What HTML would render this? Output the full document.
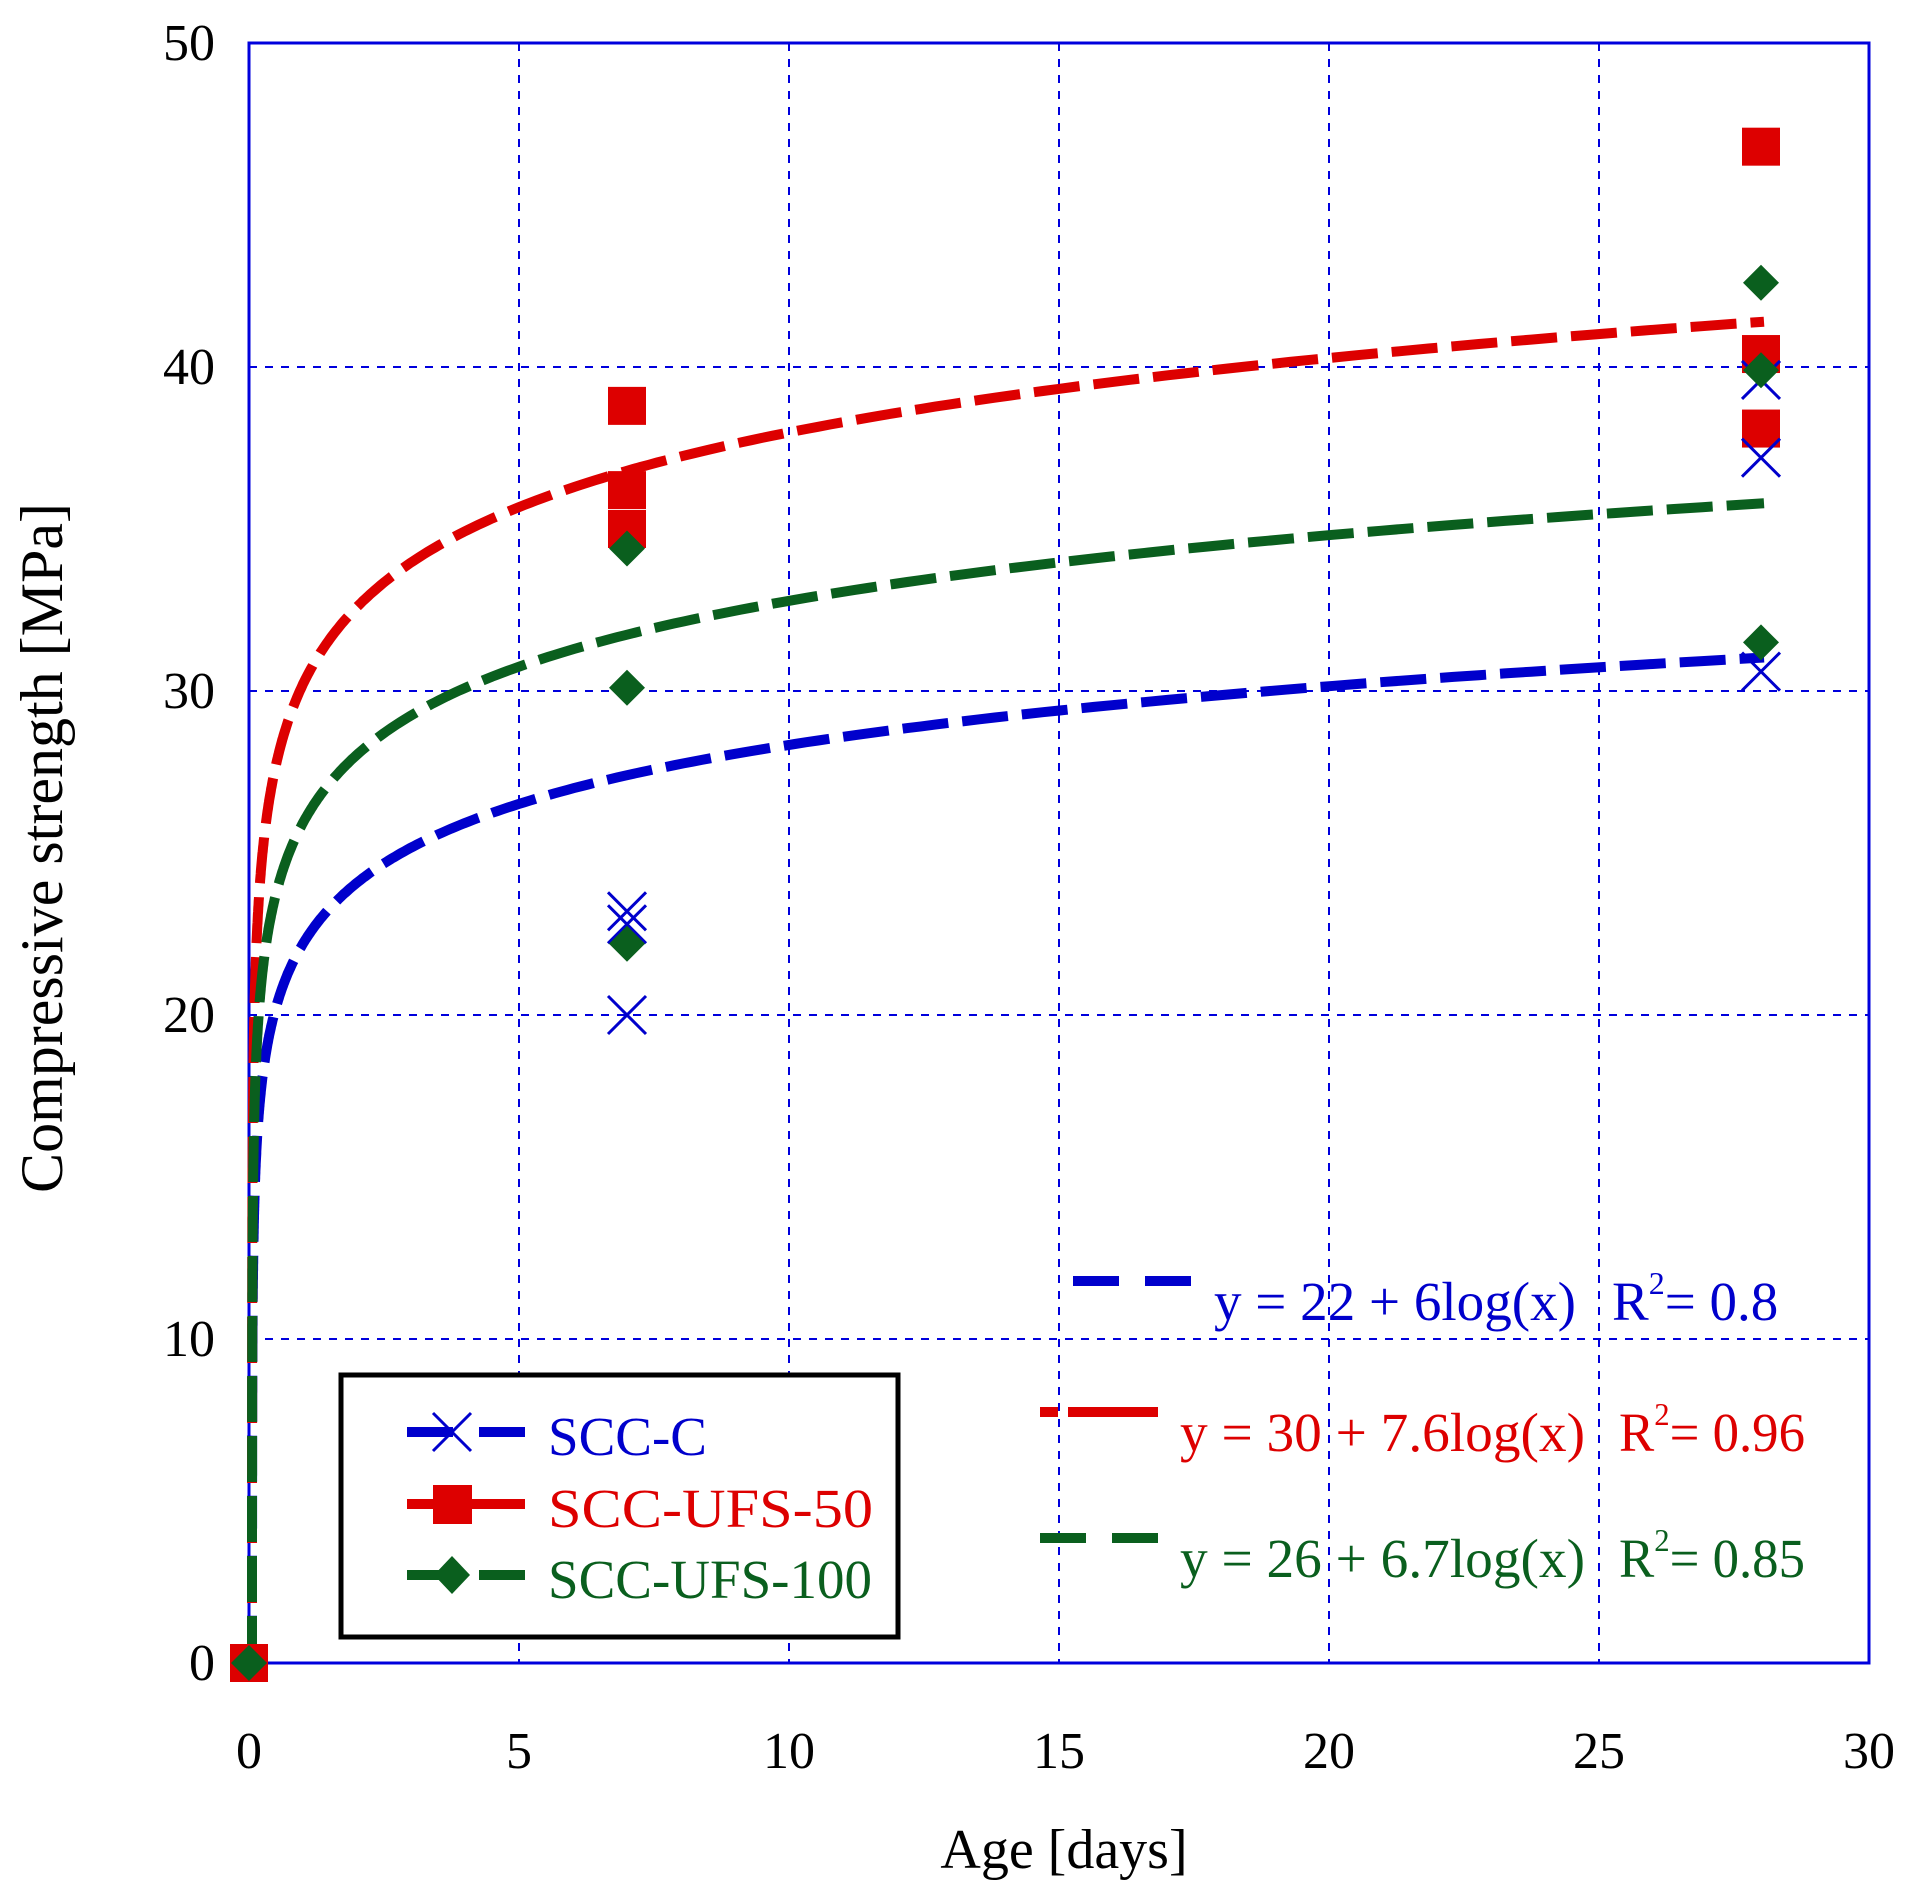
<!DOCTYPE html>
<html><head><meta charset="utf-8"><style>html,body{margin:0;padding:0;background:#fff}svg{display:block}</style></head>
<body>
<svg id="s" width="1917" height="1892" xmlns="http://www.w3.org/2000/svg" font-family="Liberation Serif, serif">
<g id="grid" stroke="#0000dd" stroke-width="2" stroke-dasharray="8,8" fill="none"></g>
<rect x="249" y="43" width="1620" height="1620" fill="none" stroke="#0000dd" stroke-width="3"/>
<g id="ticks" font-size="52" fill="#000"></g>
<text x="1064" y="1868" font-size="56" text-anchor="middle">Age [days]</text>
<text transform="translate(62,848) rotate(-90)" font-size="60" text-anchor="middle">Compressive strength [MPa]</text>
<g id="curves" fill="none" stroke-width="10" stroke-dasharray="46,14"></g>
<g id="marks"></g>
<!-- legend -->
<rect x="341" y="1375" width="557" height="262" fill="#fff" stroke="#000" stroke-width="5"/>
<line x1="407" y1="1432" x2="525" y2="1432" stroke="#0000cc" stroke-width="10" stroke-dasharray="46,26"/>
<path d="M433 1413 L471 1451 M471 1413 L433 1451" stroke="#0000cc" stroke-width="3"/>
<line x1="407" y1="1504" x2="525" y2="1504" stroke="#dd0000" stroke-width="10"/>
<rect x="433" y="1485" width="39" height="39" fill="#dd0000"/>
<line x1="407" y1="1575" x2="525" y2="1575" stroke="#0a5f1e" stroke-width="10" stroke-dasharray="46,26"/>
<path d="M452 1556 L470 1575 L452 1594 L434 1575Z" fill="#0a5f1e"/>
<g font-size="55">
<text x="548" y="1455" fill="#0000cc">SCC-C</text>
<text x="548" y="1527" fill="#dd0000" textLength="325" lengthAdjust="spacingAndGlyphs">SCC-UFS-50</text>
<text x="548" y="1598" fill="#0a5f1e" textLength="324" lengthAdjust="spacingAndGlyphs">SCC-UFS-100</text>
</g>
<!-- equations -->
<line x1="1073" y1="1281" x2="1192" y2="1281" stroke="#0000cc" stroke-width="10" stroke-dasharray="46,26"/>
<line x1="1040" y1="1412" x2="1158" y2="1412" stroke="#dd0000" stroke-width="10" stroke-dasharray="18,10,82,0"/>
<line x1="1040" y1="1538" x2="1158" y2="1538" stroke="#0a5f1e" stroke-width="10" stroke-dasharray="46,26"/>
<g font-size="55">
<text x="1214" y="1320" fill="#0000cc" textLength="362" lengthAdjust="spacingAndGlyphs">y = 22 + 6log(x)</text>
<text x="1612" y="1320" fill="#0000cc">R<tspan dy="-26" font-size="32">2</tspan><tspan dy="26">= 0.8</tspan></text>
<text x="1180" y="1451" fill="#dd0000" textLength="405" lengthAdjust="spacingAndGlyphs">y = 30 + 7.6log(x)</text>
<text x="1619" y="1451" fill="#dd0000" textLength="186" lengthAdjust="spacingAndGlyphs">R<tspan dy="-26" font-size="32">2</tspan><tspan dy="26">= 0.96</tspan></text>
<text x="1180" y="1577" fill="#0a5f1e" textLength="405" lengthAdjust="spacingAndGlyphs">y = 26 + 6.7log(x)</text>
<text x="1619" y="1577" fill="#0a5f1e" textLength="186" lengthAdjust="spacingAndGlyphs">R<tspan dy="-26" font-size="32">2</tspan><tspan dy="26">= 0.85</tspan></text>
</g>
</svg>
<script>
var NS="http://www.w3.org/2000/svg";
function X(v){return 249+v*54}function Y(v){return 1663-v*32.4}
function el(p,t,a,txt){var e=document.createElementNS(NS,t);for(var k in a)e.setAttribute(k,a[k]);if(txt!=null)e.textContent=txt;document.getElementById(p).appendChild(e);return e}
for(var i=1;i<6;i++){el("grid","line",{x1:X(i*5),y1:43,x2:X(i*5),y2:1663});}
for(var j=1;j<5;j++){el("grid","line",{x1:249,y1:Y(j*10),x2:1869,y2:Y(j*10)});}
for(var i=0;i<=6;i++)el("ticks","text",{x:X(i*5),y:1768,"text-anchor":"middle"},String(i*5));
for(var j=0;j<=5;j++)el("ticks","text",{x:215,y:Y(j*10)+17,"text-anchor":"end"},String(j*10));
var C=[[22.35,6,"#0000cc"],[30.4,7.6,"#dd0000"],[26.1,6.7,"#0a5f1e"]];
C.forEach(function(c){var d="",first=true;
 for(var k=0;k<=600;k++){var x=Math.pow(10,-4+k/600*(Math.log10(28)+4));var y=c[0]+c[1]*Math.log10(x);if(y<0)continue;
 d+=(first?"M":"L")+(X(x)+3).toFixed(1)+" "+Y(y).toFixed(1);first=false;}
 el("curves","path",{d:d,stroke:c[2]});});
function sq(x,y){el("marks","rect",{x:X(x)-19,y:Y(y)-19,width:38,height:38,fill:"#dd0000"})}
function dm(x,y){var a=X(x),b=Y(y);el("marks","path",{d:"M"+a+" "+(b-18)+"L"+(a+18)+" "+b+"L"+a+" "+(b+18)+"L"+(a-18)+" "+b+"Z",fill:"#0a5f1e"})}
function cr(x,y){var a=X(x),b=Y(y),r=19;el("marks","path",{d:"M"+(a-r)+" "+(b-r)+"L"+(a+r)+" "+(b+r)+"M"+(a+r)+" "+(b-r)+"L"+(a-r)+" "+(b+r),stroke:"#0000cc","stroke-width":3})}
[0,38.8,36.2,35.0].forEach(function(v,i){sq(i?7:0,v)});[46.8,40.4,38.1].forEach(function(v){sq(28,v)});
[23.2,22.8,20,39.6,37.2,30.6].forEach(function(v,i){cr(i<3?7:28,v)});
[0,34.4,30.1,22.2].forEach(function(v,i){dm(i?7:0,v)});[42.6,39.9,31.5].forEach(function(v){dm(28,v)});
</script>
</body></html>
